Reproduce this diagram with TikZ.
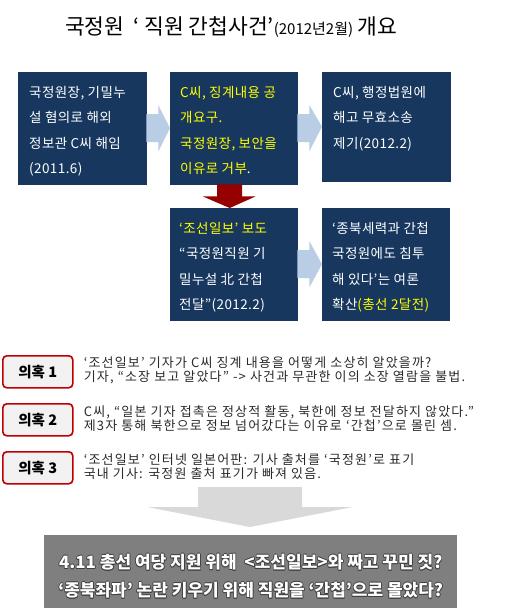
\documentclass[tikz,border=0pt]{standalone}
\usepackage{fontspec}
\setmainfont{Noto Sans CJK KR}
\usetikzlibrary{calc}
\definecolor{navy}{HTML}{17375E}
\definecolor{lblue}{HTML}{B9CDE5}
\definecolor{dred}{HTML}{960000}
\definecolor{yel}{HTML}{FFFF00}
\definecolor{redge}{HTML}{C00000}
\definecolor{lfill}{HTML}{F2F2F2}
\definecolor{garrow}{HTML}{D9D9D9}
\definecolor{gbox}{HTML}{7F7F7F}
\definecolor{dtext}{HTML}{2A2A2A}
\newcommand\myoutline[2]{\leavevmode\begingroup
  \rlap{\color{#1}\hspace*{0.7pt}#2}%
  \rlap{\color{#1}\hspace*{-0.7pt}#2}%
  \rlap{\color{#1}\raisebox{0.7pt}{#2}}%
  \rlap{\color{#1}\raisebox{-0.7pt}{#2}}%
  \rlap{\color{#1}\hspace*{0.5pt}\raisebox{0.5pt}{#2}}%
  \rlap{\color{#1}\hspace*{-0.5pt}\raisebox{0.5pt}{#2}}%
  \rlap{\color{#1}\hspace*{0.5pt}\raisebox{-0.5pt}{#2}}%
  \rlap{\color{#1}\hspace*{-0.5pt}\raisebox{-0.5pt}{#2}}%
  #2\endgroup}
\newcommand\flowarr[2]{%
  \fill[flowarrow] ($(#1.east)+(0,-14)$) -- ($(#1.east)+(12,-14)$) -- ($(#1.east)+(12,-23)$)
    -- (#2.west) -- ($(#1.east)+(12,23)$) -- ($(#1.east)+(12,14)$) -- ($(#1.east)+(0,14)$) -- cycle;}
\tikzset{
  navybox/.style={fill=navy, draw=navy, anchor=north west, inner sep=0pt},
  boxtext/.style={anchor=north west, inner sep=0pt, align=left, text=white,
    font=\fontsize{13.5}{25.5}\selectfont\addfontfeatures{LetterSpace=3}},
  flowarrow/.style={fill=lblue},
  doubt/.style={draw=redge, line width=1.6pt, fill=lfill, rounded corners=4pt,
    minimum width=70pt, minimum height=32pt, inner sep=0pt, anchor=north west,
    font=\bfseries\fontsize{14.5}{16}\selectfont},
  doubttext/.style={anchor=west, inner sep=0pt, align=left, text=dtext,
    font=\fontsize{13}{14}\selectfont\addfontfeatures{LetterSpace=9}},
}
\begin{document}
\begin{tikzpicture}[x=1pt,y=-1pt]
\useasboundingbox (0,0) rectangle (522,609);
\node[anchor=west, inner sep=0pt] (title) at (65,27)
  {\fontsize{21.5}{24}\selectfont 국정원\hspace{9pt}‘ 직원 간첩사건’{\fontsize{15}{16}\selectfont(2012년2월)} 개요};
% flow boxes
\node[navybox, minimum width=128pt, minimum height=112pt] (b1) at (18,72) {};
\node[navybox, minimum width=127pt, minimum height=112pt] (b2) at (170,72) {};
\node[navybox, minimum width=128pt, minimum height=109pt] (b3) at (322,72) {};
\node[navybox, minimum width=127pt, minimum height=112pt] (b4) at (170,208) {};
\node[navybox, minimum width=127pt, minimum height=112pt] (b5) at (322,208) {};
\node[boxtext] (t1) at ($(b1.north west)+(11,14)$)
  {국정원장, 기밀누\\설 혐의로 해외\\정보관 C씨 해임\\(2011.6)};
\node[boxtext, text=yel] (t2) at ($(b2.north west)+(10,14)$)
  {C씨, 징계내용 공\\개요구.\\국정원장, 보안을\\이유로 거부{\color{white}.}};
\node[boxtext] (t3) at ($(b3.north west)+(11,14)$)
  {C씨, 행정법원에\\해고 무효소송\\제기(2012.2)};
\node[boxtext] (t4) at ($(b4.north west)+(9,14)$)
  {{\color{yel}‘조선일보’ 보도}\\“국정원직원 기\\밀누설 北 간첩\\전달”(2012.2)};
\node[boxtext] (t5) at ($(b5.north west)+(10,14)$)
  {‘종북세력과 간첩\\국정원에도 침투\\해 있다’는 여론\\확산{\color{yel}(총선 2달전)}};
% arrows
\flowarr{b1}{b2}
\flowarr{b2}{b3}
\flowarr{b4}{b5}
\coordinate (ra) at ($(b2.south)+(-4,0)$);
\coordinate (rb) at (ra |- b4.north);
\fill[dred] ($(ra)+(-12.5,0)$) -- ($(ra)+(12.5,0)$) -- ($(ra)+(12.5,12)$) -- ($(ra)+(26,12)$)
  -- (rb) -- ($(ra)+(-27,12)$) -- ($(ra)+(-12.5,12)$) -- cycle;
% doubts
\node[doubt] (d1) at (2,355) {의혹 1};
\node[doubt] (d2) at (2,403) {의혹 2};
\node[doubt] (d3) at (2,451) {의혹 3};
\node[doubttext] (e1) at ($(d1.east)+(10,-1.5)$)
  {‘조선일보’ 기자가 C씨 징계 내용을 어떻게 소상히 알았을까?\\기자, “소장 보고 알았다” -> 사건과 무관한 이의 소장 열람을 불법.};
\node[doubttext] (e2) at ($(d2.east)+(10,-1.5)$)
  {C씨, “일본 기자 접촉은 정상적 활동, 북한에 정보 전달하지 않았다.”\\제3자 통해 북한으로 정보 넘어갔다는 이유로 ‘간첩’으로 몰린 셈.};
\node[doubttext] (e3) at ($(d3.east)+(10,-1.5)$)
  {‘조선일보’ 인터넷 일본어판: 기사 출처를 ‘국정원’로 표기\\국내 기사: 국정원 출처 표기가 빠져 있음.};
% big arrow and conclusion
\node[fill=gbox, minimum width=413pt, minimum height=73pt, anchor=north west, inner sep=0pt] (fin) at (44,535) {};
\coordinate (ga) at (250,487);
\coordinate (gb) at (250,527);
\fill[garrow] ($(ga)+(-52,0)$) -- ($(ga)+(52,0)$) -- ($(ga)+(52,20)$) -- ($(ga)+(103,20)$)
  -- (gb) -- ($(ga)+(-103,20)$) -- ($(ga)+(-52,20)$) -- cycle;
\node[text=white, align=center, inner sep=0pt, font=\bfseries\fontsize{17}{28}\selectfont] (fintext)
  at ($(fin.center)+(0,4.5)$)
  {\myoutline{black!75}{4.11 총선 여당 지원 위해 \ <조선일보>와 짜고 꾸민 짓?}\\
   \myoutline{black!75}{‘종북좌파’ 논란 키우기 위해 직원을 ‘간첩’으로 몰았다?}};
\end{tikzpicture}
\end{document}
